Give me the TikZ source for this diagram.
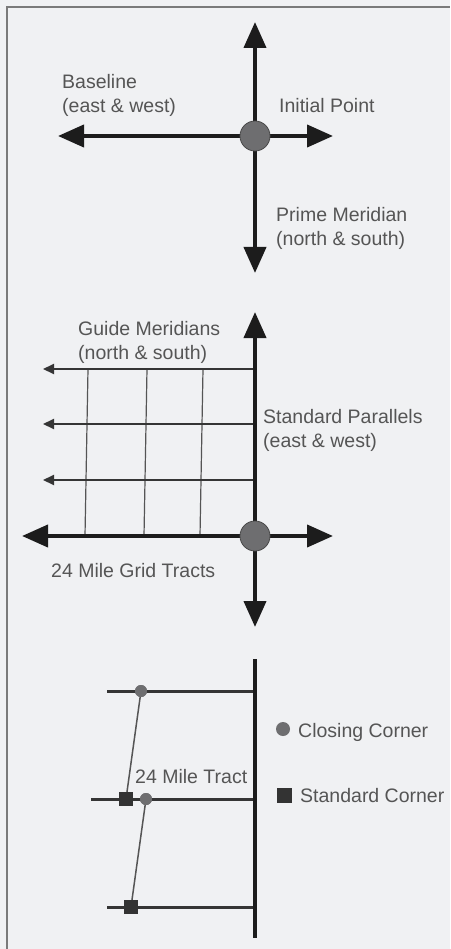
\documentclass[tikz,border=0pt]{standalone}
\usepackage{fontspec}
\setmainfont{Liberation Sans}
\usetikzlibrary{arrows.meta}
\definecolor{bg}{HTML}{F0F1F3}
\definecolor{framec}{HTML}{7A7A7A}
\definecolor{ink}{HTML}{1C1C1C}
\definecolor{txt}{HTML}{555555}
\definecolor{dotc}{HTML}{6E6E70}
\definecolor{thinc}{HTML}{353535}
\definecolor{merc}{HTML}{555555}
\begin{document}
\begin{tikzpicture}[x=1pt,y=-1pt,
  bigaxis/.style={ink, line width=4pt, {Triangle[length=26pt,width=22pt]}-{Triangle[length=26pt,width=22pt]}},
  paraline/.style={thinc, line width=2pt, -{Triangle[length=11pt,width=10pt]}},
  meridian/.style={merc, line width=1.2pt},
  tractline/.style={thinc, line width=3pt},
  slant/.style={merc, line width=1.5pt},
  ipdot/.style={circle, fill=dotc, draw=ink!80, line width=0.8pt, minimum size=30pt, inner sep=0pt},
  cdot/.style={circle, fill=dotc, minimum size=12pt, inner sep=0pt},
  sq/.style={rectangle, fill=ink!90, minimum size=14pt, inner sep=0pt},
  lbl/.style={anchor=base west, inner sep=0pt, text=txt, font=\fontsize{19.5}{24}\selectfont}
]
\fill[bg] (0,0) rectangle (450,949);
\useasboundingbox (0,0) rectangle (450,949);
\draw[framec, line width=2pt] (7,949) -- (7,7) -- (450,7);

% ---------- top section ----------
\coordinate (ip) at (255,136);
\coordinate (tN) at (255,22);
\coordinate (tS) at (255,273);
\coordinate (tW) at (58,136);
\coordinate (tE) at (333,136);
\draw[bigaxis] (tW) -- (tE);
\draw[bigaxis] (tN) -- (tS);
\node[ipdot] (ipn) at (ip) {};
\node[lbl] (bl1) at (62,89) {Baseline};
\node[lbl] (bl2) at (62,113) {(east \& west)};
\node[lbl] (ipl) at (279,113) {Initial Point};
\node[lbl] (pm1) at (276,222) {Prime Meridian};
\node[lbl] (pm2) at (276,246) {(north \& south)};

% ---------- middle section ----------
\coordinate (mN) at (255,312);
\coordinate (mS) at (255,627);
\coordinate (mW) at (22,536);
\coordinate (mE) at (333,536);
\coordinate (g1t) at (88,369);  \coordinate (g1b) at (85,536);
\coordinate (g2t) at (147,369); \coordinate (g2b) at (144,536);
\coordinate (g3t) at (203,369); \coordinate (g3b) at (200,536);
\draw[meridian] (g1t) -- (g1b);
\draw[meridian] (g2t) -- (g2b);
\draw[meridian] (g3t) -- (g3b);
\coordinate (p1r) at (255,369); \coordinate (p1l) at (43,369);
\coordinate (p2r) at (255,424); \coordinate (p2l) at (43,424);
\coordinate (p3r) at (255,480); \coordinate (p3l) at (43,480);
\draw[paraline] (p1r) -- (p1l);
\draw[paraline] (p2r) -- (p2l);
\draw[paraline] (p3r) -- (p3l);
\draw[bigaxis] (mW) -- (mE);
\draw[bigaxis] (mN) -- (mS);
\node[ipdot] (ip2) at (255,536) {};
\node[lbl] (gm1) at (78,335) {Guide Meridians};
\node[lbl] (gm2) at (78,359) {(north \& south)};
\node[lbl] (sp1) at (263,423) {Standard Parallels};
\node[lbl] (sp2) at (263,447) {(east \& west)};
\node[lbl] (gt) at (51,577) {24 Mile Grid Tracts};

% ---------- bottom section ----------
\coordinate (bN) at (255,659);
\coordinate (bS) at (255,938);
\coordinate (r1l) at (107,691); \coordinate (r1r) at (255,691);
\coordinate (r2l) at (91,799);  \coordinate (r2r) at (255,799);
\coordinate (r3l) at (107,907); \coordinate (r3r) at (255,907);
\draw[tractline] (r1l) -- (r1r);
\draw[tractline] (r2l) -- (r2r);
\draw[tractline] (r3l) -- (r3r);
\node[cdot] (c1) at (141,691) {};
\node[cdot] (c2) at (146,799) {};
\node[sq] (s1) at (126,799) {};
\node[sq] (s2) at (131,907) {};
\draw[slant] (c1.center) -- (s1.center);
\draw[slant] (c2.center) -- (s2.center);
\node[cdot] at (c1) {};
\node[cdot] at (c2) {};
\node[sq] at (s1) {};
\node[sq] at (s2) {};
\draw[ink, line width=4.5pt] (bN) -- (bS);
\node[lbl] (mt) at (135,783) {24 Mile Tract};
\node[cdot, minimum size=14pt] (lc) at (283,729) {};
\node[lbl] (lcl) at (298,737) {Closing Corner};
\node[sq, minimum size=15pt] (ls) at (284,795) {};
\node[lbl] (lsl) at (300,802) {Standard Corner};
\end{tikzpicture}
\end{document}
